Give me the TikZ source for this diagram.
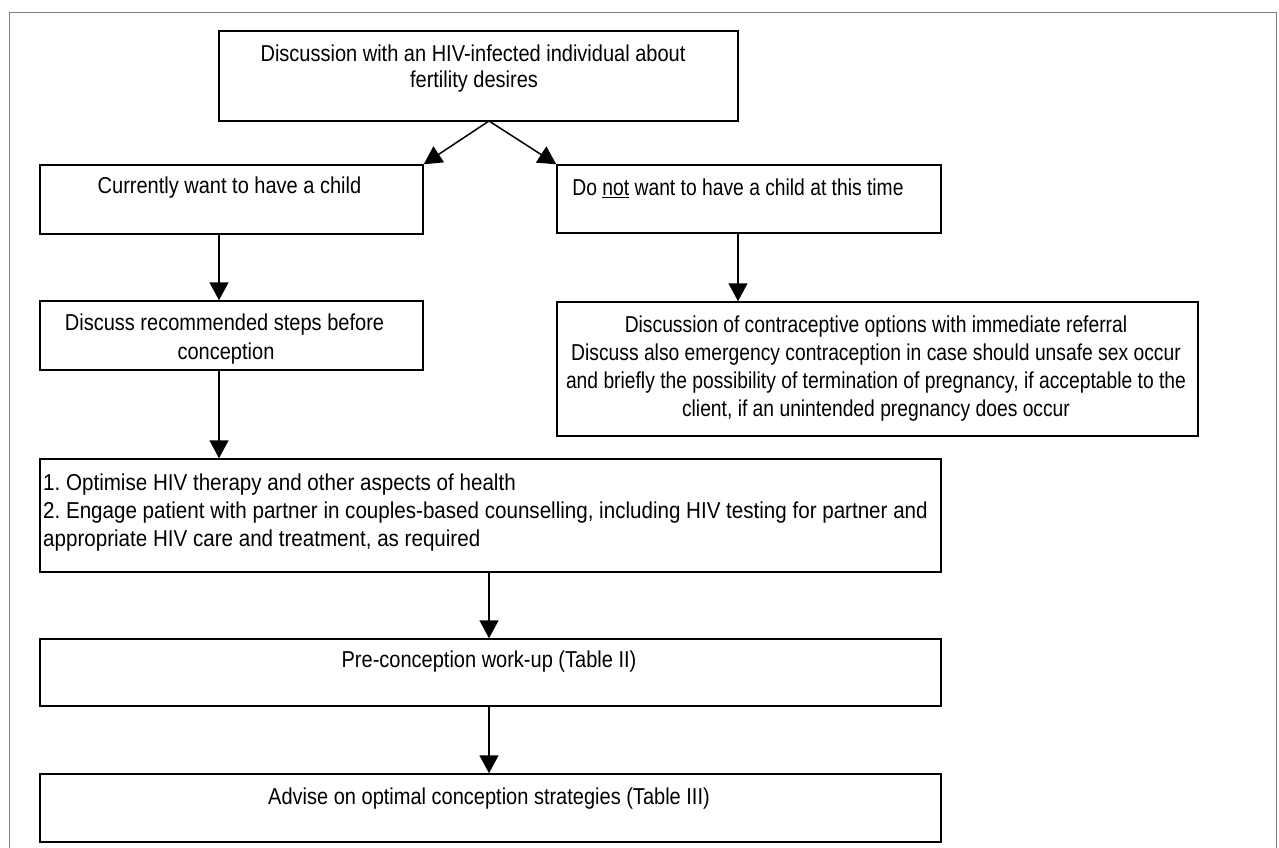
\documentclass[tikz,border=0pt]{standalone}
\usepackage{fontspec}
\setmainfont{Liberation Sans}[FakeStretch=0.87]
\newfontfamily\fnarrow{Liberation Sans}[FakeStretch=0.838]
\newfontfamily\fwide{Liberation Sans}[FakeStretch=0.895]
\usetikzlibrary{arrows.meta,calc}
\begin{document}
\frenchspacing
\begin{tikzpicture}[x=1pt,y=-1pt,
  box/.style={draw=black,line width=1.5pt,rectangle,inner sep=0pt},
  txt/.style={font=\fontsize{23}{28}\selectfont,inner sep=0pt,align=center},
  arr/.style={line width=1.5pt,-{Triangle[length=18pt,width=19pt]}}]
\useasboundingbox (0,0) rectangle (1279,848);
\clip (0,0) rectangle (1279,848);
\fill[white] (0,0) rectangle (1279,848);
\draw[gray,line width=1pt] (9,13) rectangle (1276,870);
% boxes
\node[box,minimum width=519pt,minimum height=90pt] (top) at (478.5,76) {};
\node[box,minimum width=383pt,minimum height=69pt] (b1) at (231.5,199.5) {};
\node[box,minimum width=384pt,minimum height=68pt] (b2) at (749,199) {};
\node[box,minimum width=383pt,minimum height=69pt] (d1) at (231.5,335.5) {};
\node[box,minimum width=641pt,minimum height=134pt] (c1) at (877.5,369) {};
\node[box,minimum width=901pt,minimum height=113pt] (o1) at (490.5,515.5) {};
\node[box,minimum width=901pt,minimum height=67pt] (p1) at (490.5,672.5) {};
\node[box,minimum width=901pt,minimum height=68pt] (a1) at (490.5,808) {};
% texts
\node[txt] (ttop) at (473,53) {Discussion with an HIV-infected individual about};
\node[txt] (ttop2) at (474,82) {fertility desires};
\node[txt] (tb1) at (229.5,188) {Currently want to have a child};
\node[txt,font=\fontsize{23}{28}\selectfont\fnarrow] (tb2) at (738,188) {Do \underline{not} want to have a child at this time};
\node[txt] (td1) at (224.5,325) {Discuss recommended steps before};
\node[txt] (td2) at (226,354) {conception};
\node[txt,anchor=north,font=\fontsize{23}{28}\selectfont\fnarrow] (tc1) at (876,316) {Discussion of contraceptive options with immediate referral\\
Discuss also emergency contraception in case should unsafe sex occur\\
and briefly the possibility of termination of pregnancy, if acceptable to the\\
client, if an unintended pregnancy does occur};
\node[txt,anchor=north west,align=left,font=\fontsize{23}{28}\selectfont\fwide] (to1) at (43,474) {1. Optimise HIV therapy and other aspects of health\\
2. Engage patient with partner in couples-based counselling, including HIV testing for partner and\\
appropriate HIV care and treatment, as required};
\node[txt] (tp1) at (489,662) {Pre-conception work-up (Table II)};
\node[txt] (ta1) at (489,799) {Advise on optimal conception strategies (Table III)};
% connectors
\coordinate (apex) at (489,121);
\coordinate (lx) at (219,0);
\coordinate (rx) at (738,0);
\coordinate (mx) at (489,0);
\draw[arr] (apex) -- (b1.north east);
\draw[arr] (apex) -- (b2.north west);
\draw[arr] (b1.south -| lx) -- (d1.north -| lx);
\draw[arr] (b2.south -| rx) -- (c1.north -| rx);
\draw[arr] (d1.south -| lx) -- (o1.north -| lx);
\draw[arr] (o1.south -| mx) -- (p1.north -| mx);
\draw[arr] (p1.south -| mx) -- (a1.north -| mx);
\end{tikzpicture}
\end{document}
